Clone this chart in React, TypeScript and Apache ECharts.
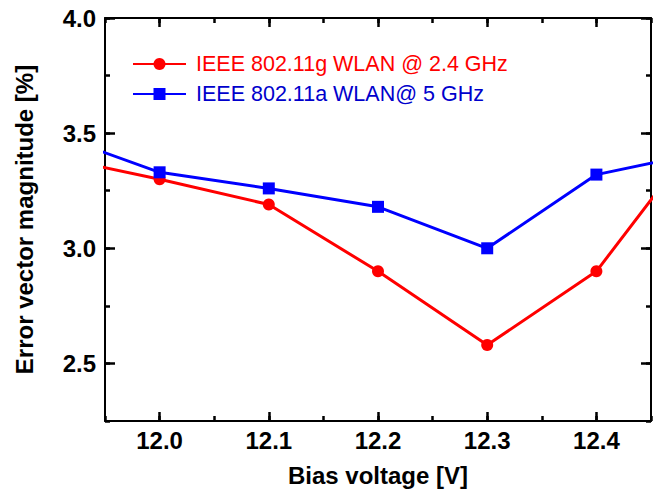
import React, { useEffect, useRef } from "react";
import * as echarts from "echarts";

const xValues = [11.9, 12.0, 12.1, 12.2, 12.3, 12.4, 12.5];
const red24 = [3.4, 3.3, 3.19, 2.9, 2.58, 2.9, 3.52];
const blue5 = [3.5, 3.33, 3.26, 3.18, 3.0, 3.32, 3.42];
const xTickLabels = ["12.0", "12.1", "12.2", "12.3", "12.4"];
const yTickLabels = ["2.5", "3.0", "3.5", "4.0"];
const seriesNames = ["IEEE 802.11g WLAN @ 2.4 GHz", "IEEE 802.11a WLAN@ 5 GHz"];

const FONT = "'Liberation Sans', Arial, Helvetica, sans-serif";
const X_MIN = 11.95, X_MAX = 12.45, X_MINOR = 0.05;
const Y_MIN = 2.25, Y_MAX = 4.0, Y_MINOR = 0.25;
const X_MAJ_MIN = Number(xTickLabels[0]), X_MAJ_MAX = Number(xTickLabels[xTickLabels.length - 1]), X_MAJOR = 0.1;
const Y_MAJ_MIN = Number(yTickLabels[0]), Y_MAJ_MAX = Number(yTickLabels[yTickLabels.length - 1]), Y_MAJOR = 0.5;

const W = 653, H = 499;
const G = { left: 105, right: 2, top: 18, bottom: 78 };

export default function App() {
  const ref = useRef<HTMLDivElement>(null);
  useEffect(() => {
    if (!ref.current) return;
    const chart = echarts.init(ref.current, undefined, { renderer: "svg" });
    const pw = W - G.left - G.right;
    const ph = H - G.top - G.bottom;
    const px = (v: number) => G.left + ((v - X_MIN) / (X_MAX - X_MIN)) * pw;
    const py = (v: number) => G.top + ((Y_MAX - v) / (Y_MAX - Y_MIN)) * ph;
    const gridX = { left: px(X_MAJ_MIN), right: W - px(X_MAJ_MAX), top: G.top, bottom: G.bottom };
    const gridY = { left: G.left, right: G.right, top: py(Y_MAJ_MAX), bottom: H - py(Y_MAJ_MIN) };

    const labelStyle = { fontFamily: FONT, fontWeight: "bold", fontSize: 24, color: "#000" };
    const tick = (len: number) => ({ show: true, inside: true, length: len, lineStyle: { color: "#000", width: 2.5, opacity: 1 } });
    const lineOn = { show: true, onZero: false, lineStyle: { color: "#000", width: 2 } };
    const base = { type: "value", splitLine: { show: false } };
    const hidden = { type: "value", show: false, min: 0, max: 1 };

    chart.setOption({
      animation: false,
      backgroundColor: "#fff",
      grid: [
        { ...G, show: false },
        { ...gridX, show: false },
        { ...gridY, show: false },
      ],
      legend: {
        orient: "vertical",
        left: 127,
        top: 48,
        itemWidth: 53,
        itemHeight: 15,
        itemGap: 8,
        textStyle: { fontFamily: FONT, fontSize: 21.5, lineHeight: 20, padding: [0, 0, 0, 5] },
        data: [
          { name: seriesNames[0], textStyle: { color: "#ff0000" } },
          { name: seriesNames[1], textStyle: { color: "#0000cc" } },
        ],
      },
      xAxis: [
        {
          ...base, gridIndex: 0, position: "bottom", min: X_MIN, max: X_MAX, interval: X_MINOR,
          axisLine: lineOn, axisTick: tick(5), axisLabel: { show: false },
          name: "Bias voltage [V]", nameLocation: "middle", nameGap: 42, nameTextStyle: labelStyle,
        },
        { ...base, gridIndex: 0, position: "top", min: X_MIN, max: X_MAX, interval: X_MINOR, axisLine: lineOn, axisTick: tick(5), axisLabel: { show: false } },
        {
          ...base, gridIndex: 1, position: "bottom", min: X_MAJ_MIN, max: X_MAJ_MAX, interval: X_MAJOR,
          axisLine: { show: false }, axisTick: tick(9),
          axisLabel: { ...labelStyle, margin: 7, formatter: (v: number) => v.toFixed(1) },
        },
        { ...base, gridIndex: 1, position: "top", min: X_MAJ_MIN, max: X_MAJ_MAX, interval: X_MAJOR, axisLine: { show: false }, axisTick: tick(9), axisLabel: { show: false } },
        { ...hidden, gridIndex: 2 },
      ],
      yAxis: [
        {
          ...base, gridIndex: 0, position: "left", min: Y_MIN, max: Y_MAX, interval: Y_MINOR,
          axisLine: lineOn, axisTick: tick(5), axisLabel: { show: false },
          name: "Error vector magnitude [%]", nameLocation: "middle", nameGap: 69, nameTextStyle: labelStyle,
        },
        { ...base, gridIndex: 0, position: "right", min: Y_MIN, max: Y_MAX, interval: Y_MINOR, axisLine: lineOn, axisTick: tick(5), axisLabel: { show: false } },
        {
          ...base, gridIndex: 2, position: "left", min: Y_MAJ_MIN, max: Y_MAJ_MAX, interval: Y_MAJOR,
          axisLine: { show: false }, axisTick: tick(10),
          axisLabel: { ...labelStyle, margin: 9, formatter: (v: number) => v.toFixed(1) },
        },
        { ...base, gridIndex: 2, position: "right", min: Y_MAJ_MIN, max: Y_MAJ_MAX, interval: Y_MAJOR, axisLine: { show: false }, axisTick: tick(10), axisLabel: { show: false } },
        { ...hidden, gridIndex: 1 },
      ],
      series: [
        {
          name: seriesNames[0],
          type: "line",
          xAxisIndex: 0,
          yAxisIndex: 0,
          clip: true,
          symbol: "circle",
          symbolSize: 12,
          color: "#ff0000",
          lineStyle: { color: "#ff0000", width: 3 },
          itemStyle: { color: "#ff0000" },
          data: xValues.map((x, i) => [x, red24[i]]),
          z: 2,
        },
        {
          name: seriesNames[1],
          type: "line",
          xAxisIndex: 0,
          yAxisIndex: 0,
          clip: true,
          symbol: "rect",
          symbolSize: 12,
          color: "#0000ff",
          lineStyle: { color: "#0000ff", width: 3 },
          itemStyle: { color: "#0000ff" },
          data: xValues.map((x, i) => [x, blue5[i]]),
          z: 3,
        },
      ],
    });
    return () => chart.dispose();
  }, []);
  return (
    <div
      ref={ref}
      style={{ position: "fixed", left: 0, top: 0, width: W, height: H, background: "#fff" }}
    />
  );
}
